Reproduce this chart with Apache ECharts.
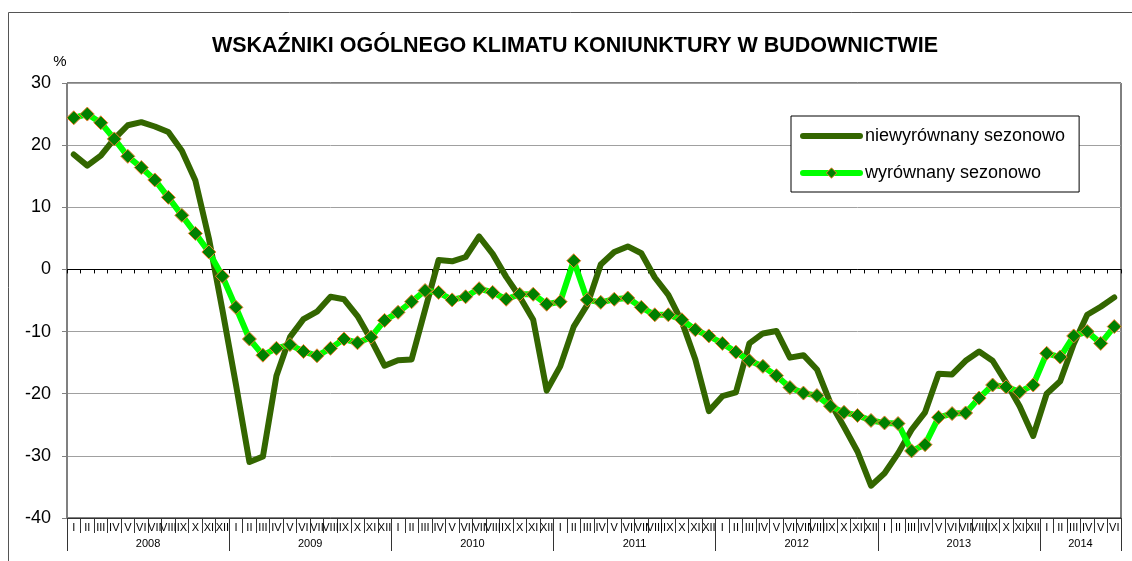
<!DOCTYPE html>
<html>
<head>
<meta charset="utf-8">
<script src="https://cdn.jsdelivr.net/npm/echarts@6/dist/echarts.min.js"></script>
<style>
  html, body { margin: 0; padding: 0; background: #fff; }
  #chart { width: 1132px; height: 561px; }
</style>
</head>
<body>
<div id="chart"></div>
<script>
const romans = ['I', 'II', 'III', 'IV', 'V', 'VI', 'VII', 'VIII', 'IX', 'X', 'XI', 'XII']
const years = ['2008', '2009', '2010', '2011', '2012', '2013', '2014']
const monthsPerYear = [12, 12, 12, 12, 12, 12, 6]

// niewyrównany sezonowo, I 2008 - VI 2014
const raw = [
  18.5, 16.7, 18.3, 21.0, 23.2, 23.7, 23.0, 22.1, 19.1, 14.3, 5.0, -6.5,
  -18.5, -31.0, -30.1, -17.1, -10.9, -8.0, -6.8, -4.4, -4.8, -7.5, -11.3, -15.5,
  -14.6, -14.5, -6.5, 1.5, 1.3, 2.0, 5.3, 2.5, -1.2, -4.4, -8.1, -19.5,
  -15.6, -9.2, -5.7, 0.8, 2.8, 3.7, 2.6, -1.3, -4.1, -8.4, -14.5, -22.8,
  -20.4, -19.8, -11.9, -10.3, -9.9, -14.2, -13.8, -16.1, -21.5, -25.3, -29.3, -34.8,
  -32.8, -29.6, -25.8, -23.0, -16.8, -16.9, -14.7, -13.2, -14.7, -18.2, -22.0, -26.8,
  -20.0, -18.0, -12.0, -7.3, -6.0, -4.5
]

// wyrównany sezonowo
const adjusted = [
  24.4, 25.0, 23.6, 21.0, 18.2, 16.4, 14.4, 11.6, 8.7, 5.8, 2.8, -1.1,
  -6.1, -11.2, -13.8, -12.7, -12.1, -13.2, -13.9, -12.7, -11.2, -11.8, -10.9, -8.2,
  -6.9, -5.2, -3.4, -3.7, -4.9, -4.4, -3.1, -3.7, -4.8, -4.0, -4.0, -5.6,
  -5.2, 1.4, -4.9, -5.3, -4.8, -4.6, -6.1, -7.3, -7.3, -8.1, -9.7, -10.7,
  -11.9, -13.3, -14.7, -15.6, -17.1, -19.0, -19.9, -20.3, -22.0, -23.0, -23.5, -24.3,
  -24.7, -24.8, -29.2, -28.2, -23.8, -23.2, -23.1, -20.7, -18.6, -18.9, -19.7, -18.6,
  -13.5, -14.1, -10.7, -10.0, -11.9, -9.2
]

const yTicks = { min: -40, max: 30, step: 10 }

const months = []
const yearOf = []
years.forEach((y, k) => {
  for (let m = 0; m < monthsPerYear[k]; m++) {
    months.push(romans[m])
    yearOf.push(y)
  }
})

// year label sits under the middle of its year (after month index 5, or 2 for the half year)
function isYearMid(i) {
  let start = 0
  for (let k = 0; k < years.length; k++) {
    const n = monthsPerYear[k]
    if (i === start + n / 2 - 1) return true
    start += n
  }
  return false
}

const FONT = 'Liberation Sans, Arial, sans-serif'
const DARK = '#336600'
const LIGHT = '#00ff00'
const chart = echarts.init(document.getElementById('chart'))

chart.setOption({
  animation: false,
  title: {
    text: 'WSKAŹNIKI OGÓLNEGO KLIMATU KONIUNKTURY W BUDOWNICTWIE',
    left: 575,
    textAlign: 'center',
    top: 35,
    padding: 0,
    textStyle: { fontFamily: FONT, fontSize: 21.5, fontWeight: 'bold', color: '#000' }
  },
  graphic: [
    { type: 'rect', shape: { x: 8.5, y: 12.5, width: 1200, height: 700 }, style: { fill: 'none', stroke: '#555', lineWidth: 1 }, silent: true },
    { type: 'text', x: 60, y: 62, style: { text: '%', fontFamily: FONT, fontSize: 15, fill: '#000', textAlign: 'center', textVerticalAlign: 'middle' } }
  ],
  legend: {
    left: 791,
    top: 116,
    orient: 'vertical',
    backgroundColor: '#fff',
    borderColor: '#000',
    borderWidth: 1,
    padding: [11, 14, 10, 9],
    itemGap: 19,
    itemWidth: 57,
    itemHeight: 13,
    textStyle: { fontFamily: FONT, fontSize: 18, color: '#000' },
    lineStyle: { width: 6, cap: 'round' },
    data: [
      { name: 'niewyrównany sezonowo', itemStyle: { opacity: 0 }, lineStyle: { color: DARK, width: 6, cap: 'round' } },
      {
        name: 'wyrównany sezonowo',
        itemStyle: { color: '#008000', borderColor: '#f08030', borderWidth: 1 },
        lineStyle: { color: LIGHT, width: 6, cap: 'round' }
      }
    ]
  },
  grid: {
    left: 67, top: 83, right: 11, bottom: 43,
    show: true, borderColor: '#000', borderWidth: 1,
    outerBoundsMode: 'none'
  },
  xAxis: [
    {
      type: 'category', data: months, position: 'bottom', boundaryGap: true,
      axisLine: { show: true, onZero: false, lineStyle: { color: '#333', width: 1 } },
      axisTick: { show: true, interval: 0, length: 15, lineStyle: { color: '#333', width: 1 } },
      axisLabel: { interval: 0, margin: 4, fontFamily: FONT, fontSize: 11, color: '#000' },
      splitLine: { show: false }
    },
    {
      type: 'category', data: months, boundaryGap: true,
      axisLine: { show: true, onZero: true, lineStyle: { color: '#000', width: 1 } },
      axisTick: { show: true, interval: 0, inside: true, length: 4, lineStyle: { color: '#000', width: 1 } },
      axisLabel: { show: false },
      splitLine: { show: false }
    },
    {
      type: 'category', data: months, position: 'bottom', boundaryGap: true,
      axisLine: { show: false, onZero: false },
      axisTick: { show: true, interval: (i) => i % 12 === 0, length: 33, lineStyle: { color: '#333', width: 1 } },
      axisLabel: {
        interval: 0,
        formatter: (v, i) => (isYearMid(i) ? yearOf[i] : ''),
        padding: [0, 0, 0, 13.5],
        margin: 20, fontFamily: FONT, fontSize: 11, color: '#000'
      },
      splitLine: { show: false }
    }
  ],
  yAxis: {
    type: 'value', min: yTicks.min, max: yTicks.max, interval: yTicks.step,
    axisLine: { show: true, lineStyle: { color: '#808080' } },
    axisTick: { show: true, length: 5, lineStyle: { color: '#808080' } },
    axisLabel: { margin: 16, fontFamily: FONT, fontSize: 18, color: '#000' },
    splitLine: { lineStyle: { color: '#a0a0a0', width: 1 } }
  },
  series: [
    {
      name: 'niewyrównany sezonowo', type: 'line', data: raw, xAxisIndex: 0,
      symbol: 'circle', showSymbol: false, smooth: false,
      color: DARK,
      lineStyle: { color: DARK, width: 6, join: 'round', cap: 'round' }
    },
    {
      name: 'wyrównany sezonowo', type: 'line', data: adjusted, xAxisIndex: 0,
      symbol: 'diamond', symbolSize: 14, showSymbol: true,
      color: LIGHT,
      lineStyle: { color: LIGHT, width: 6, join: 'round', cap: 'round' },
      itemStyle: { color: '#008000', borderColor: '#f08030', borderWidth: 1 }
    }
  ]
})
</script>
</body>
</html>
